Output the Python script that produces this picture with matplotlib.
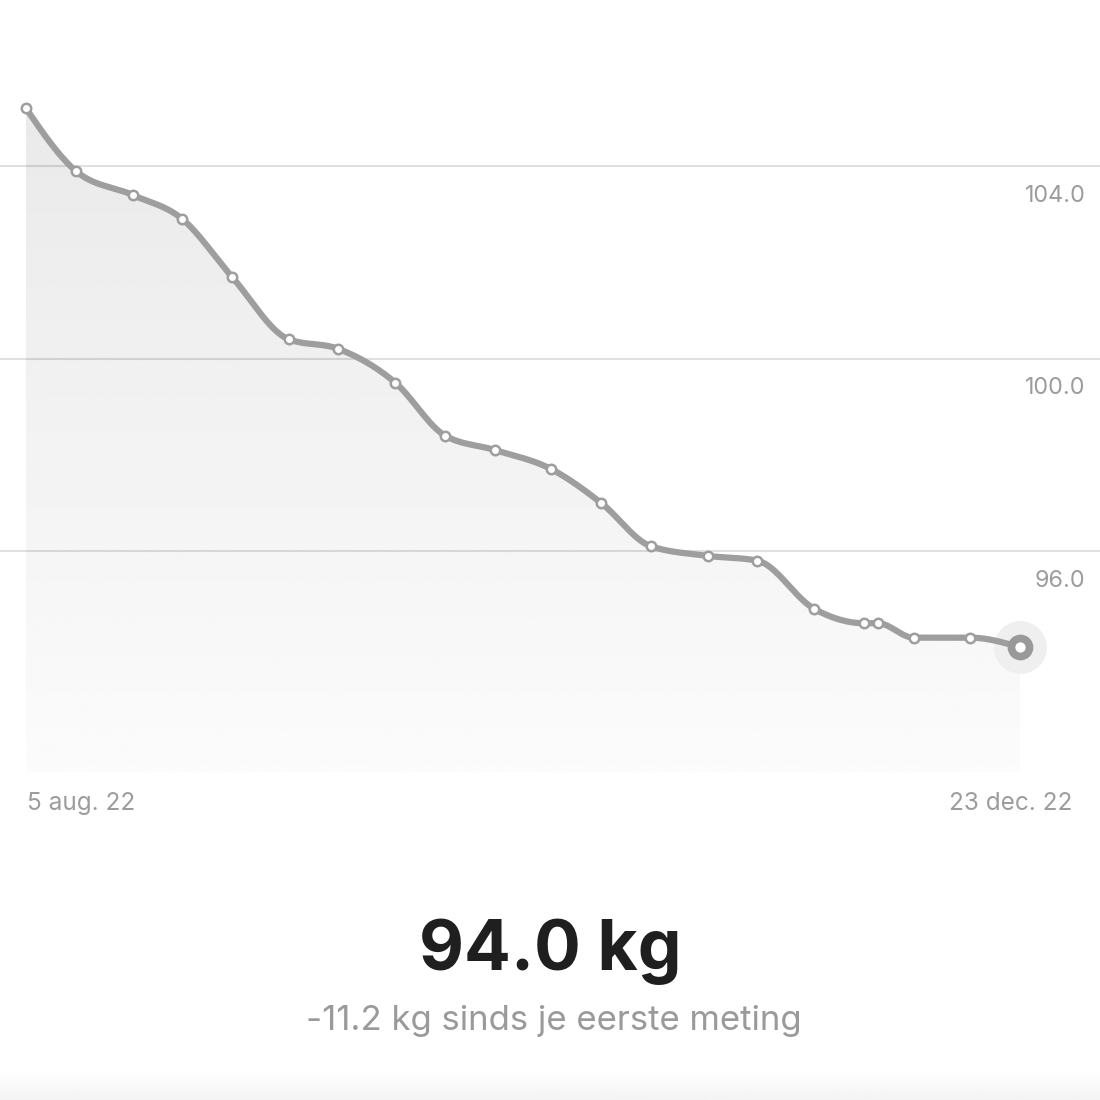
import numpy as np
import matplotlib
matplotlib.use("Agg")
import matplotlib.pyplot as plt
from matplotlib.patches import Polygon

# ---------------- data ----------------
dates = ["2022-08-05", "2022-08-12", "2022-08-20", "2022-08-27", "2022-09-03",
         "2022-09-11", "2022-09-18", "2022-09-26", "2022-10-03", "2022-10-10",
         "2022-10-18", "2022-10-25", "2022-11-01", "2022-11-09", "2022-11-16",
         "2022-11-24", "2022-12-01", "2022-12-03", "2022-12-08", "2022-12-16",
         "2022-12-23"]
weights = [105.2, 103.9, 103.4, 102.9, 101.7, 100.4, 100.2, 99.5, 98.4, 98.1,
           97.7, 97.0, 96.1, 95.9, 95.8, 94.8, 94.5, 94.5, 94.2, 94.2, 94.0]
y_ticks = [96.0, 100.0, 104.0]
x_labels = ["5 aug. 22", "23 dec. 22"]
current_label = "94.0 kg"
change_label = "-11.2 kg sinds je eerste meting"

FONT = ["Inter", "DejaVu Sans"]

# ---------------- helpers ----------------
def monotone_x(x, y, n=30):
    """d3-style curveMonotoneX (Steffen) cubic Hermite through the points."""
    x = np.asarray(x, float); y = np.asarray(y, float)
    h = np.diff(x); s = np.diff(y) / h
    m = np.zeros_like(y)
    for i in range(1, len(y) - 1):
        h0, h1, s0, s1 = h[i-1], h[i], s[i-1], s[i]
        p = (s0 * h1 + s1 * h0) / (h0 + h1)
        m[i] = (np.sign(s0) + np.sign(s1)) * min(abs(s0), abs(s1), 0.5 * abs(p))
    m[0] = (3 * s[0] - m[1]) / 2
    m[-1] = (3 * s[-1] - m[-2]) / 2
    xs, ys = [], []
    for i in range(len(h)):
        t = np.linspace(0, 1, n, endpoint=(i == len(h) - 1))
        h00 = 2*t**3 - 3*t**2 + 1; h10 = t**3 - 2*t**2 + t
        h01 = -2*t**3 + 3*t**2; h11 = t**3 - t**2
        xs.append(x[i] + t * h[i])
        ys.append(h00*y[i] + h10*h[i]*m[i] + h01*y[i+1] + h11*h[i]*m[i+1])
    return np.concatenate(xs), np.concatenate(ys)

d = np.array(dates, dtype="datetime64[D]")
days = (d - d[0]).astype(float)
w = np.array(weights)

# ---------------- figure ----------------
fig = plt.figure(figsize=(11, 11), dpi=100)
fig.patch.set_facecolor("white")

px_day = 994 / 140.0
ax = fig.add_axes([0, 328 / 1100, 1, 772 / 1100])
ax.set_xlim(-26 / px_day, 1074 / px_day)
ymin = 91.408
ax.set_ylim(ymin, 107.45)
ax.axis("off")

LABEL_GREY = "#9c9c9c"
LINE_GREY = "#9e9e9e"

# gridlines
for v in y_ticks:
    ax.axhline(v, color="black", alpha=0.12, lw=1.5, zorder=3)
    ax.annotate(f"{v:.1f}", xy=(0.987, v), xycoords=("axes fraction", "data"),
                xytext=(0, -25.7), textcoords="offset points",
                ha="right", va="baseline", fontsize=16.8, color=LABEL_GREY,
                family=FONT)

# curve
cx, cy = monotone_x(days, w)

# gradient fill under the curve
poly = np.column_stack([np.r_[cx[0], cx, cx[-1]], np.r_[ymin, cy, ymin]])
patch = Polygon(poly, closed=True, facecolor="none", edgecolor="none")
ax.add_patch(patch)
grad = np.linspace(0.915, 0.985, 256).reshape(-1, 1)
im = ax.imshow(grad, cmap="gray", vmin=0, vmax=1, aspect="auto",
               extent=[cx[0], cx[-1], ymin, w.max()], origin="upper",
               zorder=1, interpolation="bilinear")
im.set_clip_path(patch)

ax.plot(cx, cy, color=LINE_GREY, lw=4.5, solid_capstyle="round", zorder=4)
ax.plot(days[:-1], w[:-1], "o", ms=6.8, mfc="white", mec=LINE_GREY, mew=1.8,
        zorder=5)
# highlighted last point
ax.plot(days[-1:], w[-1:], "o", ms=38, mfc="#efefef", mec="none", zorder=2)
ax.plot(days[-1:], w[-1:], "o", ms=13, mfc="white", mec="#999999", mew=5.5,
        zorder=6)

# x labels
fig.text(27 / 1100, 1 - 810 / 1100, x_labels[0], ha="left", va="baseline",
         fontsize=17.5, color=LABEL_GREY, family=FONT)
fig.text(1072 / 1100, 1 - 810 / 1100, x_labels[-1], ha="right", va="baseline",
         fontsize=17.5, color=LABEL_GREY, family=FONT)

# summary text
fig.text(550 / 1100, 1 - 970 / 1100, current_label, ha="center", va="baseline",
         fontsize=50, fontweight="bold", color="#1f1f1f", family=FONT)
fig.text(554 / 1100, 1 - 1030 / 1100, change_label, ha="center", va="baseline",
         fontsize=25, color="#9a9a9a", family=FONT)

# faint card shadow at the bottom
sax = fig.add_axes([0, 0, 1, 30 / 1100])
sax.imshow(np.linspace(1.0, 0.955, 64).reshape(-1, 1), cmap="gray", vmin=0,
           vmax=1, aspect="auto", extent=[0, 1, 0, 1], origin="upper")
sax.axis("off")

fig.savefig("out.png", dpi=100, facecolor="white")
